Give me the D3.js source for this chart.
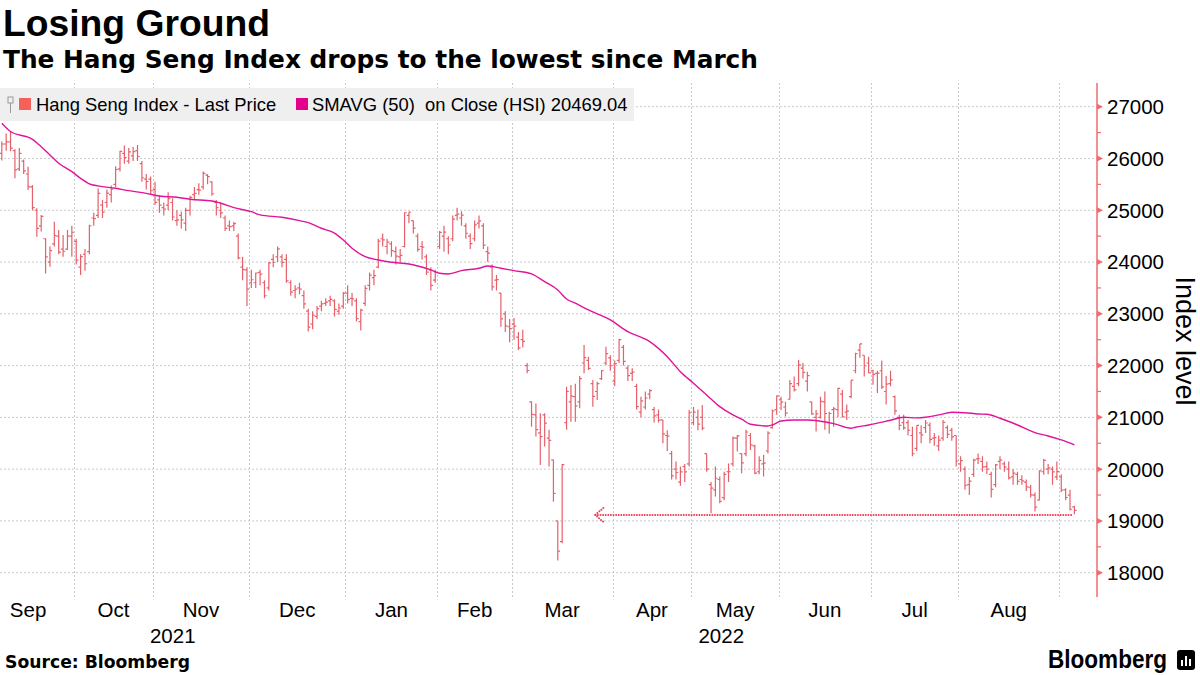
<!DOCTYPE html>
<html><head><meta charset="utf-8">
<script src="https://cdn.jsdelivr.net/npm/d3@7"></script>
<style>
body{margin:0;background:#fff;}
svg text{font-family:"Liberation Sans",Arial,sans-serif;fill:#000;}
</style></head><body>
<svg id="chart" width="1200" height="675"></svg>
<script>
// ---------------- DATA ----------------
const dates = [
"2021-09-07","2021-09-08","2021-09-09","2021-09-10","2021-09-13","2021-09-14","2021-09-15","2021-09-16","2021-09-17","2021-09-20","2021-09-21","2021-09-23","2021-09-24","2021-09-27","2021-09-28","2021-09-29","2021-09-30",
"2021-10-04","2021-10-05","2021-10-06","2021-10-07","2021-10-08","2021-10-11","2021-10-12","2021-10-15","2021-10-18","2021-10-19","2021-10-20","2021-10-21","2021-10-22","2021-10-25","2021-10-26","2021-10-27","2021-10-28","2021-10-29",
"2021-11-01","2021-11-02","2021-11-03","2021-11-04","2021-11-05","2021-11-08","2021-11-09","2021-11-10","2021-11-11","2021-11-12","2021-11-15","2021-11-16","2021-11-17","2021-11-18","2021-11-19","2021-11-22","2021-11-23","2021-11-24","2021-11-25","2021-11-26","2021-11-29","2021-11-30",
"2021-12-01","2021-12-02","2021-12-03","2021-12-06","2021-12-07","2021-12-08","2021-12-09","2021-12-10","2021-12-13","2021-12-14","2021-12-15","2021-12-16","2021-12-17","2021-12-20","2021-12-21","2021-12-22","2021-12-23","2021-12-24","2021-12-28","2021-12-29","2021-12-30","2021-12-31",
"2022-01-03","2022-01-04","2022-01-05","2022-01-06","2022-01-07","2022-01-10","2022-01-11","2022-01-12","2022-01-13","2022-01-14","2022-01-17","2022-01-18","2022-01-19","2022-01-20","2022-01-21","2022-01-24","2022-01-25","2022-01-26","2022-01-27","2022-01-28","2022-01-31",
"2022-02-04","2022-02-07","2022-02-08","2022-02-09","2022-02-10","2022-02-11","2022-02-14","2022-02-15","2022-02-16","2022-02-17","2022-02-18","2022-02-21","2022-02-22","2022-02-23","2022-02-24","2022-02-25","2022-02-28",
"2022-03-01","2022-03-02","2022-03-03","2022-03-04","2022-03-07","2022-03-08","2022-03-09","2022-03-10","2022-03-11","2022-03-14","2022-03-15","2022-03-16","2022-03-17","2022-03-18","2022-03-21","2022-03-22","2022-03-23","2022-03-24","2022-03-25","2022-03-28","2022-03-29","2022-03-30","2022-03-31",
"2022-04-01","2022-04-04","2022-04-06","2022-04-07","2022-04-08","2022-04-11","2022-04-12","2022-04-13","2022-04-14","2022-04-19","2022-04-20","2022-04-21","2022-04-22","2022-04-25","2022-04-26","2022-04-27","2022-04-28","2022-04-29",
"2022-05-03","2022-05-04","2022-05-05","2022-05-06","2022-05-10","2022-05-11","2022-05-12","2022-05-13","2022-05-16","2022-05-17","2022-05-18","2022-05-19","2022-05-20","2022-05-23","2022-05-24","2022-05-25","2022-05-26","2022-05-27","2022-05-30","2022-05-31",
"2022-06-01","2022-06-02","2022-06-06","2022-06-07","2022-06-08","2022-06-09","2022-06-10","2022-06-13","2022-06-14","2022-06-15","2022-06-16","2022-06-17","2022-06-20","2022-06-21","2022-06-22","2022-06-23","2022-06-24","2022-06-27","2022-06-28","2022-06-29","2022-06-30",
"2022-07-04","2022-07-05","2022-07-06","2022-07-07","2022-07-08","2022-07-11","2022-07-12","2022-07-13","2022-07-14","2022-07-15","2022-07-18","2022-07-19","2022-07-20","2022-07-21","2022-07-22","2022-07-25","2022-07-26","2022-07-27","2022-07-28","2022-07-29",
"2022-08-01","2022-08-02","2022-08-03","2022-08-04","2022-08-05","2022-08-08","2022-08-09","2022-08-10","2022-08-11","2022-08-12","2022-08-15","2022-08-16","2022-08-17","2022-08-18","2022-08-19","2022-08-22","2022-08-23","2022-08-24","2022-08-25","2022-08-26","2022-08-29","2022-08-30","2022-08-31",
"2022-09-01","2022-09-02","2022-09-05","2022-09-06"
];
const openPx = [
26100,26280,26320,26150,25800,25950,25700,25450,25000,24700,24450,24000,24350,24500,24250,24250,24500,
24400,23900,24150,24200,24850,24900,25100,25150,25300,25500,25800,26100,25950,26050,26150,25900,25600,25600,
25400,25200,25050,25100,25150,24800,24900,24750,25000,25300,25400,25450,25680,25550,25150,25000,24850,24700,24700,24500,23900,23850,
23600,23600,23800,23600,23500,24050,24100,24100,24050,23600,23450,23500,23350,23050,22800,22950,23150,23200,23250,23250,23050,23150,
23400,23300,23250,22850,23200,23550,23700,23900,24450,24300,24350,24200,24100,24300,24900,24800,24500,24300,24100,23850,23650,
24300,24500,24450,24450,24900,24850,24700,24500,24450,24750,24700,24200,23900,23650,23400,23000,22750,
22800,22550,22500,22000,21300,21050,20700,21050,20600,20180,19000,18600,20900,21300,21400,21300,22050,22100,21650,21500,21750,22050,22150,
21700,22100,22350,21950,21850,21600,21100,21200,21450,21150,21050,20950,20650,20300,20000,19750,20050,20100,
20900,21000,21000,20300,19700,19600,19800,19450,19950,20100,20600,20300,20300,20650,20450,19950,20100,20350,20800,21150,
21350,21200,21350,21600,21650,21950,21700,21300,21000,21000,21300,20900,21150,21150,21450,21100,21400,21900,22300,22200,22050,
21900,21850,21900,21500,21650,21400,21000,20900,20900,20650,20400,20700,20800,20850,20600,20450,20600,20800,20750,20650,
20100,20000,19700,19900,20200,20150,20050,19900,19700,20150,20100,20000,19850,19900,19800,19750,19650,19500,19400,19950,20000,20000,19850,
19850,19600,19500,19270
];
const highPx = [
26330,26480,26520,26180,26200,25980,25840,25490,25040,24910,24460,24300,24780,24620,24520,24620,24700,
24450,24150,24250,24720,24950,25420,25200,25400,25480,25850,26150,26250,26200,26220,26260,25950,25700,25650,
25550,25290,25150,25350,25230,25000,24970,25050,25280,25450,25520,25750,25700,25560,25200,25150,24900,24800,24780,24550,24100,23900,
23850,23800,23850,23650,24000,24150,24300,24150,24150,23650,23550,23600,23450,23100,23050,23150,23250,23300,23350,23280,23200,23420,
23550,23400,23300,23100,23550,23800,23850,24450,24550,24450,24400,24300,24250,24960,24970,24800,24550,24400,24150,23900,23850,
24600,24700,24500,24900,25050,24980,24750,24550,24800,24900,24750,24300,23950,23750,23400,23050,22900,
22920,22650,22690,22050,21310,21270,21080,21080,20760,20180,19000,20100,21590,21626,21650,21800,22400,22170,21720,21690,21915,22366,22200,
22100,22520,22400,22000,21950,21650,21400,21500,21550,21200,21150,20950,20750,20350,20150,20050,20100,21140,
21200,21150,21240,20300,19750,20050,19860,19950,20110,20630,20660,20300,20760,20700,20470,20250,20280,20730,21150,21420,
21400,21300,21720,21790,22110,22050,21880,21300,21140,21400,21500,21110,21200,21570,21530,21250,21720,22250,22420,22200,22170,
21920,21900,22100,21800,21900,21420,21050,21050,20950,20820,20850,20850,20950,20900,20700,20650,20950,20850,20800,20650,
20250,20050,19850,20200,20300,20250,20150,19950,20100,20250,20150,20150,20000,19950,19880,19800,19700,19550,19980,20200,20100,20050,20150,
19900,19630,19600,19290
];
const lowPx = [
25960,26150,26140,25620,25760,25700,25390,25000,24490,24590,23780,23910,24300,24150,24100,24230,24100,
23950,23750,23830,24150,24700,24850,24850,25050,25150,25450,25750,25900,25900,25950,25950,25550,25400,25300,
25100,24950,24900,25000,24800,24700,24650,24600,24900,25200,25300,25400,25500,25280,24900,24850,24600,24600,24600,24050,23650,23150,
23500,23500,23550,23300,23450,23900,24000,23900,23600,23350,23300,23380,23100,22660,22700,22900,23050,23150,23150,22950,22980,23100,
23200,23150,22850,22680,23150,23450,23550,23880,24300,24150,24100,23950,24000,24280,24750,24550,24200,24050,23750,23450,23600,
24250,24200,24150,24400,24800,24700,24450,24250,24400,24650,24250,24000,23450,23450,22750,22650,22450,
22500,22300,22350,21850,20820,20630,20080,20435,20050,19370,18235,18570,20760,20917,20917,21175,21850,21915,21207,21336,21722,22012,21900,
21600,22050,22000,21700,21700,21150,21000,21150,21350,20900,20900,20500,20350,19800,19800,19680,19750,20050,
20850,20750,20750,19950,19150,19470,19340,19400,19750,20050,20340,19920,20250,20370,19900,19900,19860,20300,20780,21050,
21140,21015,21340,21500,21600,21750,21500,21050,20725,20980,20760,20690,20820,21000,21000,20950,21370,21850,22150,21790,21850,
21630,21470,21550,21250,21600,21050,20750,20760,20650,20250,20350,20500,20700,20500,20450,20350,20550,20600,20550,20050,
19950,19600,19500,19850,20100,19950,19900,19450,19650,20000,19950,19800,19700,19700,19700,19580,19450,19180,19400,19890,19900,19700,19790,
19560,19400,19200,19130
];
const closePx = [
26280,26320,26200,25780,26100,25760,25450,25050,24650,24880,24099,24221,24510,24192,24208,24500,24575,
24036,24104,23967,24701,24837,25325,24963,25331,25409,25787,26136,26017,26126,26132,26038,25628,25555,25377,
25154,25100,25024,25225,24870,24813,24813,24996,25247,25327,25390,25713,25650,25319,25049,24951,24651,24685,24740,24080,23852,23475,
23658,23788,23767,23349,23983,23996,24254,23995,23635,23420,23476,23475,23192,22744,22972,23102,23193,23224,23280,23086,23112,23398,
23274,23289,22907,23072,23493,23746,23739,24402,24429,24383,24219,24113,24127,24952,24966,24656,24244,24289,23807,23550,23802,
24573,24579,24329,24830,24925,24906,24556,24355,24719,24793,24328,24171,23520,23660,22901,22767,22713,
22761,22343,22467,21905,21057,20765,20627,20890,20554,19531,18415,20087,21501,21412,21221,21750,22154,21946,21404,21650,21900,22232,21997,
22039,22502,22080,21808,21872,21208,21319,21374,21518,21027,20945,20682,20638,19870,19935,19947,19946,21089,
21101,20870,20793,20002,19633,19824,19380,19899,19950,20602,20644,20120,20717,20470,19924,20171,20116,20697,21123,21415,
21294,21082,21653,21531,22014,21869,21806,21067,21068,21308,21075,21075,21163,21559,21008,21120,21719,22229,22418,21997,21860,
21830,21853,21587,21643,21725,21125,20844,20797,20751,20297,20846,20661,20891,20575,20609,20562,20905,20671,20622,20157,
20165,19689,19767,20174,20201,20045,20003,19610,20082,20175,20040,19830,19922,19763,19773,19657,19503,19268,19968,20170,20023,19949,19954,
19597,19452,19225,19203
];
// 50-day moving average at sample bars (bar index, value)
const smaIdx = [0,2,7,9,11,13,16,18,20,22,26,29,33,36,40,43,48,50,53,57,59,64,68,70,73,76,78,80,83,86,89,93,95,98,100,102,105,109,111,114,117,121,124,127,129,131,134,139,143,148,152,155,158,161,164,167,169,171,175,176,178,181,184,187,190,194,195,198,203,206,209,211,214,217,220,223,225,228,232,236,239,242,245];
const smaVal = [26680,26520,26370,26228,26067,25907,25745,25617,25510,25470,25424,25378,25327,25276,25250,25212,25180,25135,25050,24972,24910,24864,24800,24760,24652,24560,24426,24266,24104,24040,23995,23963,23924,23847,23783,23770,23833,23880,23924,23880,23833,23770,23620,23460,23287,23204,23074,22881,22655,22462,22172,21883,21659,21433,21207,21047,20964,20867,20834,20853,20930,20950,20950,20925,20880,20790,20810,20853,20945,21002,20990,21002,21047,21098,21090,21066,21060,20983,20853,20705,20641,20564,20469];
const yTicks = [18000,19000,20000,21000,22000,23000,24000,25000,26000,27000];
const yMinorTicks = [18500,19500,20500,21500,22500,23500,24500,25500,26500];
const monthNames = ["Jan","Feb","Mar","Apr","May","Jun","Jul","Aug","Sep","Oct","Nov","Dec"];
const hiddenDaysFirstMonth = 4;       // Sep 2021 trading days before the first bar
const lowLevel = 19116;               // dotted "lowest since March" marker
const lowFromDate = "2022-03-25";
const legendItems = ["Hang Seng Index - Last Price", "SMAVG (50)  on Close (HSI) 20469.04"];

// ---------------- CHART ----------------
const svg = d3.select("#chart");
const n = dates.length;
const plotL = 0, plotR = 1097, plotT = 83, plotB = 595;
const x = d3.scaleLinear().domain([0, n - 1]).range([1.8, 1074.4]);
const y = d3.scaleLinear().domain([18000, 27000]).range([572.7, 106.7]);
const barColor = "#e5606b", smaColor = "#e0149a", axisColor = "#f06a6e";

svg.append("defs").append("clipPath").attr("id","clip")
  .append("rect").attr("x",plotL).attr("y",plotT).attr("width",plotR-plotL).attr("height",plotB-plotT);

// month groups
const months = [];
dates.forEach((d,i)=>{
  const k = d.slice(0,7);
  if (!months.length || months[months.length-1].key !== k) months.push({key:k,start:i,end:i});
  else months[months.length-1].end = i;
});

// grid
const grid = svg.append("g");
grid.selectAll("line.h").data(yTicks).join("line")
  .attr("x1",plotL).attr("x2",plotR).attr("y1",d=>y(d)).attr("y2",d=>y(d))
  .attr("stroke","#c9c9c9").attr("stroke-width",1).attr("stroke-dasharray","2,2");
grid.selectAll("line.v").data(months.slice(1)).join("line")
  .attr("x1",d=>Math.round(x(d.start-0.5))+0.5).attr("x2",d=>Math.round(x(d.start-0.5))+0.5)
  .attr("y1",plotT).attr("y2",plotB+3)
  .attr("stroke","#c9c9c9").attr("stroke-width",1).attr("stroke-dasharray","2,2");

// OHLC bars
const bars = svg.append("g").attr("clip-path","url(#clip)")
  .attr("stroke",barColor).attr("stroke-width",1.2).attr("fill","none");
const idx = d3.range(n);
bars.selectAll("path").data(idx).join("path")
  .attr("d", i => {
    const cx = x(i), t = 2.2;
    return `M${cx},${y(highPx[i])}V${y(lowPx[i])}` +
           `M${cx-t},${y(openPx[i])}H${cx}` +
           `M${cx},${y(closePx[i])}H${cx+t}`;
  });

// SMA line
const smaPts = smaIdx.map((d,k)=>[d, smaVal[k]]);
svg.append("path").datum(smaPts)
  .attr("fill","none").attr("stroke",smaColor).attr("stroke-width",1.4)
  .attr("d", d3.line().x(d=>x(d[0])).y(d=>y(d[1])).curve(d3.curveMonotoneX));

// dotted low marker with arrow
const fromI = dates.indexOf(lowFromDate);
const lx0 = x(fromI) + 2.5, lx1 = x(n-1) - 2, ly = y(lowLevel);
const dotted = svg.append("g").attr("stroke","#ee3b52").attr("stroke-width",2)
  .attr("stroke-linecap","round").attr("stroke-dasharray","0,2.6").attr("fill","none");
dotted.append("line").attr("x1",lx0).attr("x2",lx1).attr("y1",ly).attr("y2",ly);
dotted.append("path").attr("d",`M${lx0+8},${ly-7}L${lx0},${ly}L${lx0+8},${ly+7}`);

// legend
const lg = svg.append("g");
lg.append("rect").attr("x",0).attr("y",88).attr("width",634).attr("height",33).attr("fill","#efefef");
lg.append("rect").attr("x",8).attr("y",97).attr("width",5).attr("height",6).attr("fill","none").attr("stroke","#999").attr("stroke-width",1);
lg.append("line").attr("x1",10.5).attr("x2",10.5).attr("y1",103).attr("y2",113).attr("stroke","#999").attr("stroke-width",1);
lg.append("rect").attr("x",19).attr("y",98).attr("width",12).attr("height",12).attr("fill","#f4605a");
lg.append("text").attr("x",36).attr("y",111).attr("font-size",18.4).text(legendItems[0]);
lg.append("rect").attr("x",296).attr("y",98).attr("width",12).attr("height",12).attr("fill","#e3008c");
lg.append("text").attr("x",312).attr("y",111).attr("font-size",18.4).attr("xml:space","preserve")
  .style("white-space","pre").text(legendItems[1]);

// right axis
const ax = svg.append("g");
ax.append("line").attr("x1",plotR).attr("x2",plotR).attr("y1",plotT).attr("y2",plotB+2)
  .attr("stroke",axisColor).attr("stroke-width",1.5);
ax.selectAll("path.maj").data(yTicks).join("path")
  .attr("d",d=>`M${plotR},${y(d)-3}L${plotR+6},${y(d)}L${plotR},${y(d)+3}Z`).attr("fill",axisColor);
ax.selectAll("line.min").data(yMinorTicks).join("line")
  .attr("x1",plotR).attr("x2",plotR+4).attr("y1",d=>y(d)).attr("y2",d=>y(d))
  .attr("stroke",axisColor).attr("stroke-width",1.2);
ax.selectAll("text").data(yTicks).join("text")
  .attr("x",1107).attr("y",d=>y(d)).attr("dy","0.36em").attr("font-size",20.5).text(d=>d);
svg.append("text").attr("transform","translate(1176,341) rotate(90)")
  .attr("text-anchor","middle").attr("font-size",27).text("Index level");

// month labels
months.forEach((m,k)=>{
  const s = k === 0 ? m.start - hiddenDaysFirstMonth : m.start;
  if (m.end - m.start < 10 && k === months.length-1) return;
  svg.append("text").attr("x", x((s + m.end)/2)).attr("y",617)
    .attr("text-anchor","middle").attr("font-size",20.5)
    .text(monthNames[+m.key.slice(5,7)-1]);
});
// year labels
const years = Array.from(new Set(dates.map(d=>d.slice(0,4))));
years.forEach((yr,k)=>{
  const first = dates.findIndex(d=>d.startsWith(yr));
  const nextYr = years[k+1];
  const x0 = k===0 ? plotL : x(first-0.5);
  const x1 = nextYr ? x(dates.findIndex(d=>d.startsWith(nextYr))-0.5) : plotR;
  svg.append("text").attr("x",(x0+x1)/2).attr("y",643).attr("text-anchor","middle")
    .attr("font-size",20.5).text(yr);
});

// titles
svg.append("text").attr("x",3).attr("y",36).attr("font-size",37).attr("font-weight","bold")
  .attr("textLength",267).attr("lengthAdjust","spacingAndGlyphs").text("Losing Ground");
svg.append("text").attr("x",3).attr("y",68).attr("font-size",24.5).attr("font-weight","bold")
  .style("font-family","'DejaVu Sans',sans-serif")
  .attr("textLength",755).attr("lengthAdjust","spacingAndGlyphs")
  .text("The Hang Seng Index drops to the lowest since March");
svg.append("text").attr("x",5).attr("y",668).attr("font-size",17).attr("font-weight","bold")
  .style("font-family","'DejaVu Sans',sans-serif")
  .attr("textLength",185).attr("lengthAdjust","spacingAndGlyphs").text("Source: Bloomberg");
svg.append("text").attr("x",1048).attr("y",668).attr("font-size",25).attr("font-weight","bold")
  .attr("textLength",119).attr("lengthAdjust","spacingAndGlyphs").text("Bloomberg");
const logo = svg.append("g").attr("transform","translate(1177,650)");
logo.append("rect").attr("width",18).attr("height",20).attr("rx",3).attr("fill","#000");
[[4,10,2],[8,6,2],[12,9,2]].forEach(b=>logo.append("rect").attr("x",b[0]).attr("y",b[1]).attr("width",b[2]).attr("height",16-b[1]).attr("fill","#fff"));
</script>
</body></html>
